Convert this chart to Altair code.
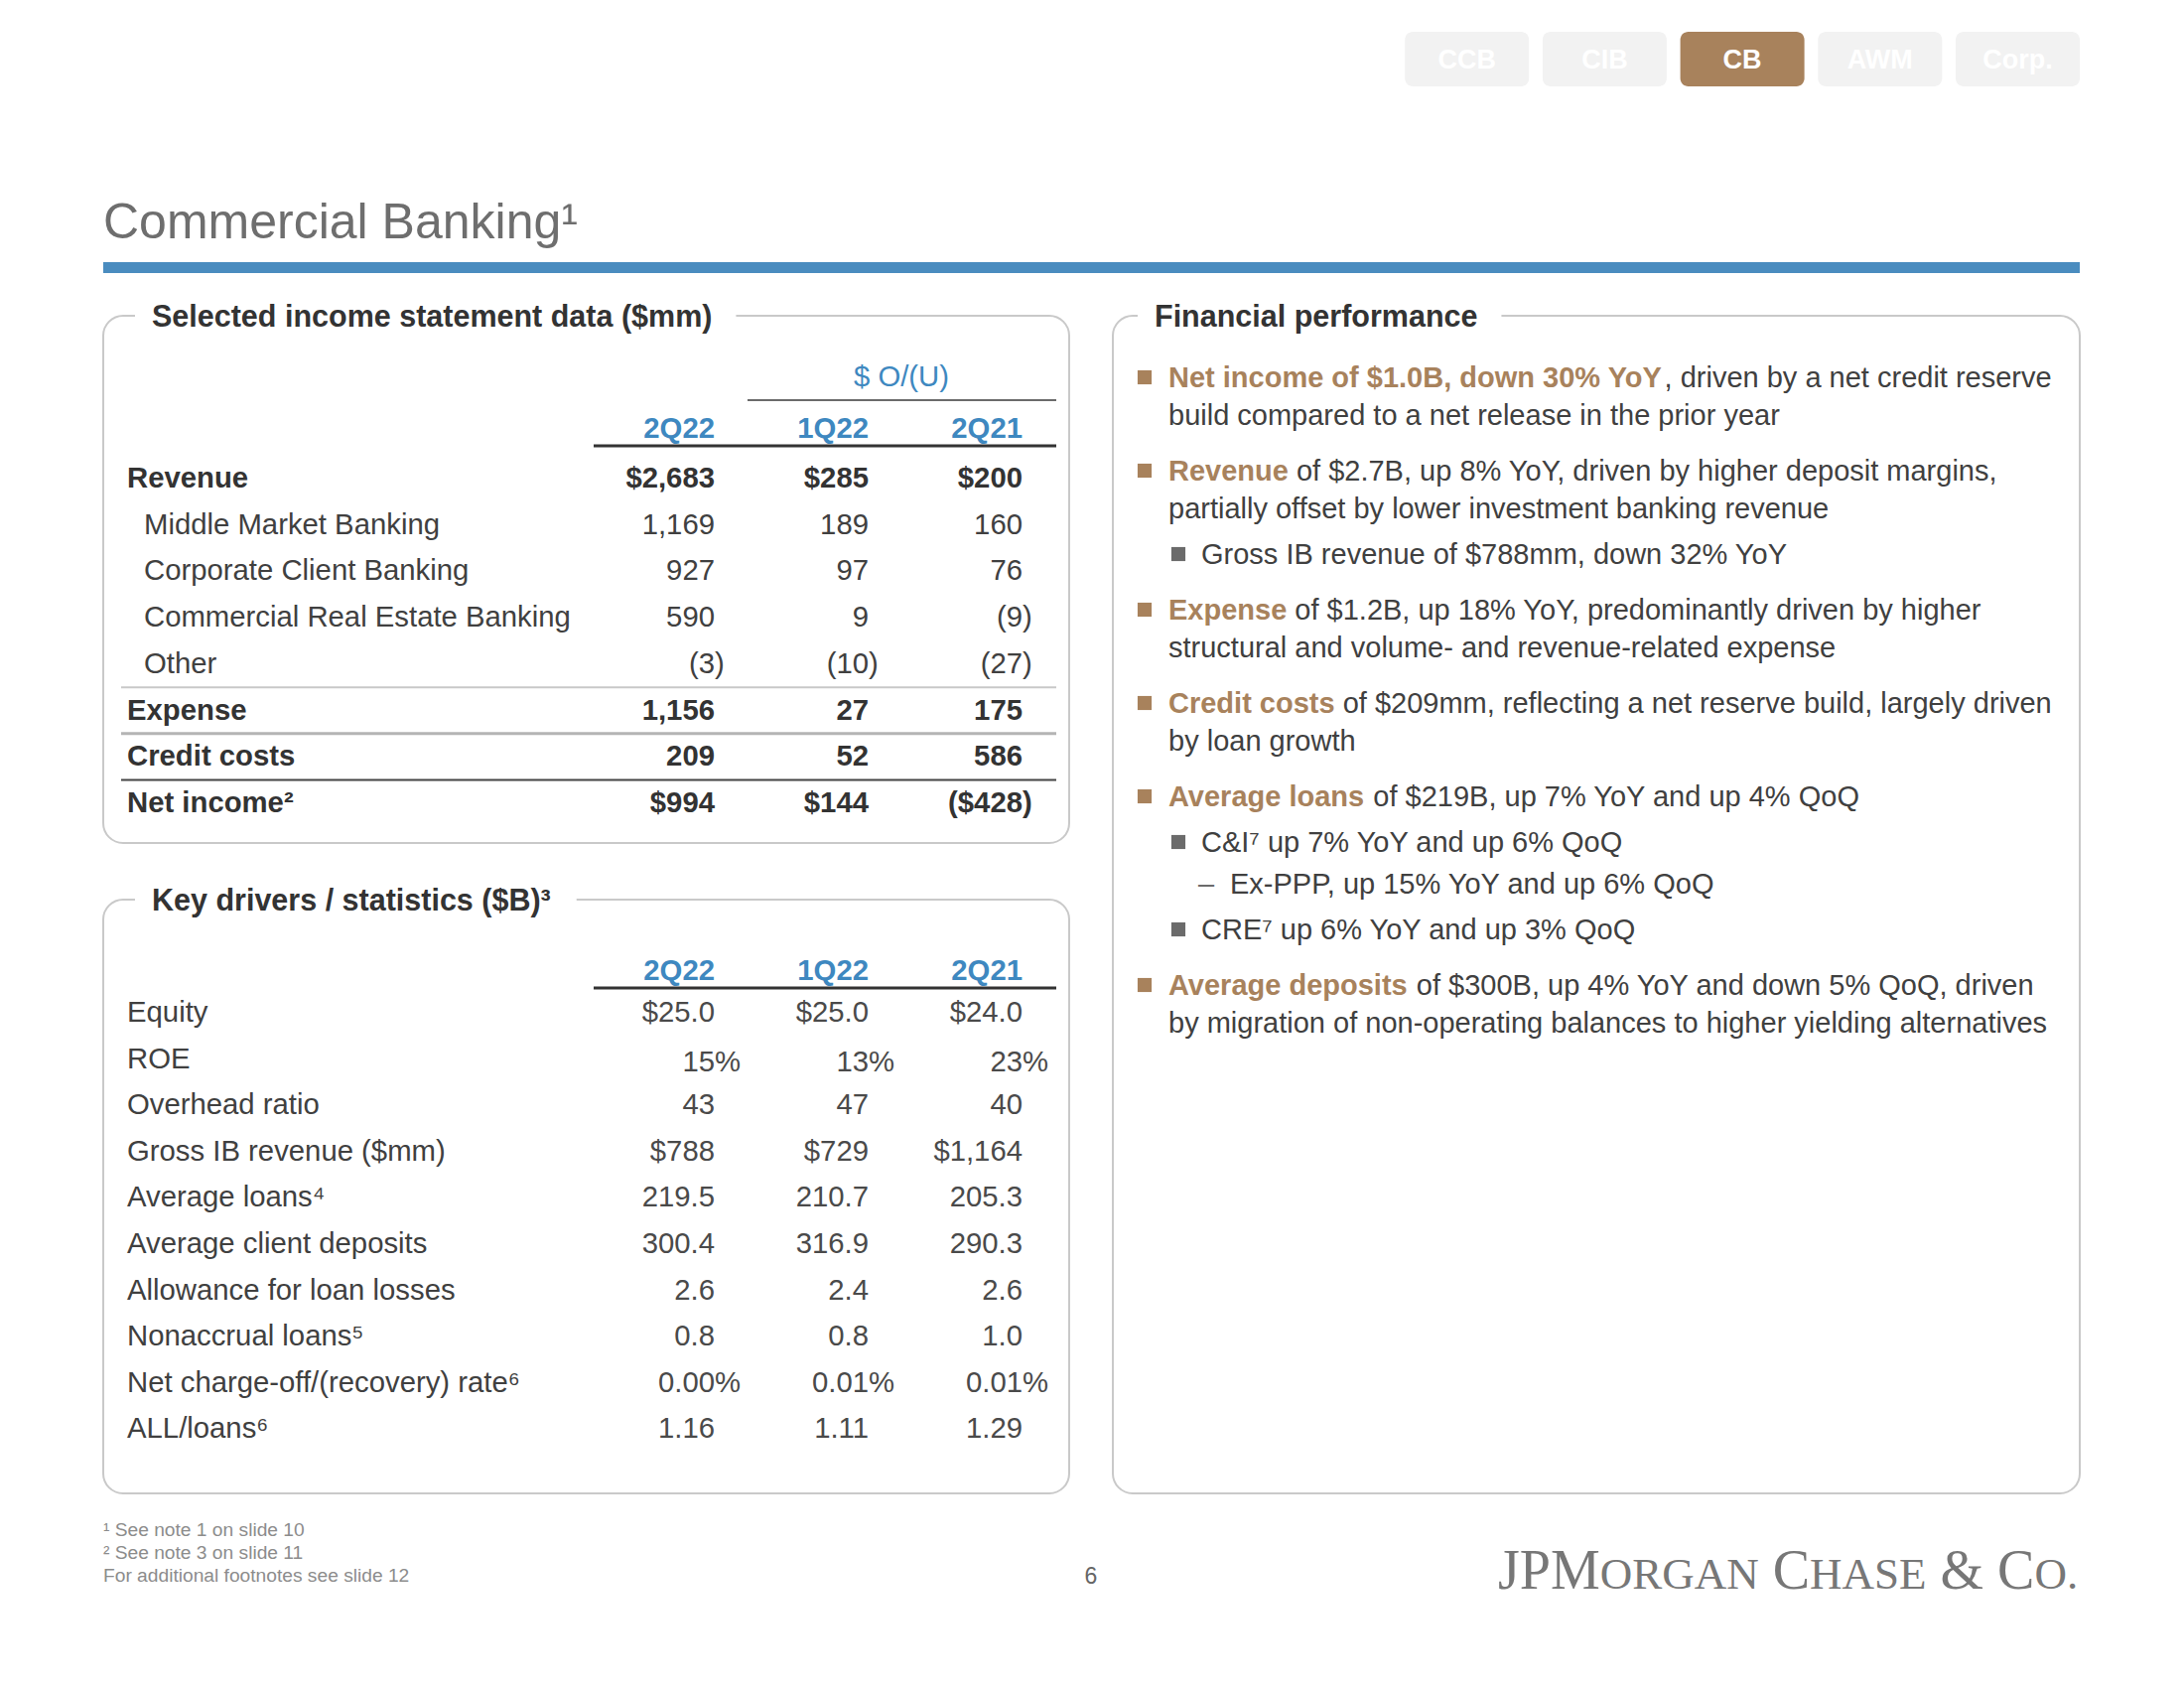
import altair as alt
import pandas as pd

# ---------------- data ----------------
tabs = ["CCB", "CIB", "CB", "AWM", "Corp."]
active_tab = "CB"

page_title = "Commercial Banking¹"

t1_title = "Selected income statement data ($mm)"
t1_span_header = "$ O/(U)"
t1_columns = ["2Q22", "1Q22", "2Q21"]
t1_labels = ["Revenue", "Middle Market Banking", "Corporate Client Banking",
             "Commercial Real Estate Banking", "Other", "Expense", "Credit costs", "Net income²"]
t1_is_total = [True, False, False, False, False, True, True, True]
t1_2q22 = ["$2,683", "1,169", "927", "590", "(3)", "1,156", "209", "$994"]
t1_1q22 = ["$285", "189", "97", "9", "(10)", "27", "52", "$144"]
t1_2q21 = ["$200", "160", "76", "(9)", "(27)", "175", "586", "($428)"]

t2_title = "Key drivers / statistics ($B)³"
t2_columns = ["2Q22", "1Q22", "2Q21"]
t2_labels = ["Equity", "ROE", "Overhead ratio", "Gross IB revenue ($mm)", "Average loans⁴",
             "Average client deposits", "Allowance for loan losses", "Nonaccrual loans⁵",
             "Net charge-off/(recovery) rate⁶", "ALL/loans⁶"]
t2_2q22 = ["$25.0", "15%", "43", "$788", "219.5", "300.4", "2.6", "0.8", "0.00%", "1.16"]
t2_1q22 = ["$25.0", "13%", "47", "$729", "210.7", "316.9", "2.4", "0.8", "0.01%", "1.11"]
t2_2q21 = ["$24.0", "23%", "40", "$1,164", "205.3", "290.3", "2.6", "1.0", "0.01%", "1.29"]

fp_title = "Financial performance"
fp_level = [1, 1, 2, 1, 1, 1, 2, 3, 2, 1]
fp_lead = ["Net income of $1.0B, down 30% YoY", "Revenue", "", "Expense", "Credit costs",
           "Average loans", "", "", "", "Average deposits"]
fp_text = [
    [", driven by a net credit reserve", "build compared to a net release in the prior year"],
    [" of $2.7B, up 8% YoY, driven by higher deposit margins,",
     "partially offset by lower investment banking revenue"],
    ["Gross IB revenue of $788mm, down 32% YoY"],
    [" of $1.2B, up 18% YoY, predominantly driven by higher",
     "structural and volume- and revenue-related expense"],
    [" of $209mm, reflecting a net reserve build, largely driven", "by loan growth"],
    [" of $219B, up 7% YoY and up 4% QoQ"],
    ["C&I⁷ up 7% YoY and up 6% QoQ"],
    ["Ex-PPP, up 15% YoY and up 6% QoQ"],
    ["CRE⁷ up 6% YoY and up 3% QoQ"],
    [" of $300B, up 4% YoY and down 5% QoQ, driven",
     "by migration of non-operating balances to higher yielding alternatives"],
]

footnotes = ["¹ See note 1 on slide 10", "² See note 3 on slide 11",
             "For additional footnotes see slide 12"]
page_number = "6"
logo_parts = ["JPM", "ORGAN", " C", "HASE", " &", " C", "O."]
logo_small = [False, True, False, True, False, False, True]

# ---------------- styles / layout ----------------
SANS = "Liberation Sans, Arial, Helvetica, sans-serif"
SERIF = "Liberation Serif, Times New Roman, serif"
FS = 29.3      # tables
FSB = 29.0     # bullets
FST = 30.5     # section titles
BLUE = "#3E88C0"
BAR = "#4A8CBF"
BROWN = "#A8825C"
DARK = "#333333"
TEXT = "#404040"
BORDER = "#C9C9C9"

_REG = dict(zip(" !\"#$%&'()*+,-./0123456789:;<=>?@",
                [278, 278, 355, 556, 556, 889, 667, 191, 333, 333, 389, 584, 278, 333, 278, 278]
                + [556] * 10 + [278, 278, 584, 584, 584, 556, 1015]))
_REG.update(dict(zip("ABCDEFGHIJKLMNOPQRSTUVWXYZ",
                     [667, 667, 722, 722, 667, 611, 778, 722, 278, 500, 667, 556, 833, 722, 778,
                      667, 778, 722, 667, 611, 722, 667, 944, 667, 667, 611])))
_REG.update(dict(zip("abcdefghijklmnopqrstuvwxyz",
                     [556, 556, 500, 556, 556, 278, 556, 556, 222, 222, 500, 222, 833, 556, 556,
                      556, 556, 333, 500, 278, 556, 500, 722, 500, 500, 500])))
_BOLD = dict(zip(" !\"#$%&'()*+,-./0123456789:;<=>?@",
                 [278, 333, 474, 556, 556, 889, 722, 238, 333, 333, 389, 584, 278, 333, 278, 278]
                 + [556] * 10 + [333, 333, 584, 584, 584, 611, 975]))
_BOLD.update(dict(zip("ABCDEFGHIJKLMNOPQRSTUVWXYZ",
                      [722, 722, 722, 722, 667, 611, 778, 722, 278, 556, 722, 611, 833, 722, 778,
                       667, 778, 722, 667, 611, 722, 667, 944, 667, 667, 611])))
_BOLD.update(dict(zip("abcdefghijklmnopqrstuvwxyz",
                      [556, 611, 556, 611, 556, 333, 611, 611, 278, 278, 556, 278, 889, 611, 611,
                       611, 611, 389, 556, 333, 611, 556, 778, 556, 556, 500])))
_SERIF = dict(zip("JPMORGANCHSE&. ", [389, 556, 889, 722, 667, 722, 722, 722, 667, 722, 556, 611,
                                      778, 250, 250]))


def tw(s, size, bold=False):
    table = _BOLD if bold else _REG
    return sum(table.get(ch, 400) for ch in s) * size / 1000.0


def tw_serif(s, size):
    return sum(_SERIF.get(ch, 700) for ch in s) * size / 1000.0


texts = {}
rects = {}
rules = []
squares = []


def add_text(x, y, t, color, size, weight="normal", align="left", font=SANS, baseline="middle"):
    texts.setdefault((weight, align, font, baseline), []).append(
        dict(x=x, y=y, t=t, c=color, s=size))


def add_rect(x, x2, y, y2, color, radius=0):
    rects.setdefault(radius, []).append(dict(x=x, x2=x2, y=y, y2=y2, c=color))


def add_rule(x, x2, y, color, w):
    rules.append(dict(x=x, x2=x2, y=y, y2=y, c=color, w=w))


LEFT, RIGHT = 104, 2095

# nav tabs
TAB_W, TAB_PITCH, TAB_Y0, TAB_Y1 = 125, 138.7, 32, 87
for i, tab in enumerate(tabs):
    x0 = RIGHT - TAB_W - (len(tabs) - 1 - i) * TAB_PITCH
    add_rect(x0, x0 + TAB_W, TAB_Y0, TAB_Y1, BROWN if tab == active_tab else "#F2F2F2", radius=8)
    add_text(x0 + TAB_W / 2, (TAB_Y0 + TAB_Y1) / 2 + 1.5, tab, "#FFFFFF", 27, weight="bold",
             align="center")

# page title + bar
add_text(LEFT, 240, page_title, "#6E6E6E", 50, baseline="alphabetic")
add_rect(LEFT, RIGHT, 264, 275, BAR)

# boxes
boxes = [(104, 1077, 318, 849, 153, t1_title), (104, 1077, 906, 1504, 153, t2_title),
         (1121, RIGHT, 318, 1504, 1163, fp_title)]
box_rows = []
for bx0, bx1, by0, by1, tx, ttl in boxes:
    box_rows.append(dict(x=bx0, x2=bx1, y=by0, y2=by1))
    add_rect(tx - 17, tx + tw(ttl, FST, True) + 24, by0 - 5, by0 + 5, "#FFFFFF")
    add_text(tx, by0 + 1.5, ttl, DARK, FST, weight="bold")

COLS_R = [720, 875, 1030]
ROW_H = 46.7


def hang(v, bold):
    return tw(v[-1], FS, bold) if v[-1] in ")%" else 0


# table 1
add_text(908, 380, t1_span_header, BLUE, FS, align="center")
add_rule(753, 1064, 403, "#3A3A3A", 1.5)
for cx, col in zip(COLS_R, t1_columns):
    add_text(cx, 432, col, BLUE, FS, weight="bold", align="right")
add_rule(598, 1064, 449, "#333333", 3)
t1_values = list(zip(t1_2q22, t1_1q22, t1_2q21))
for i, (lab, tot, vals) in enumerate(zip(t1_labels, t1_is_total, t1_values)):
    y = 482 + i * ROW_H
    w = "bold" if tot else "normal"
    col = DARK if tot else TEXT
    add_text(128 if tot else 145, y, lab, col, FS, weight=w)
    for cx, v in zip(COLS_R, vals):
        add_text(cx + hang(v, tot), y, v, col, FS, weight=w, align="right")
sep_style = {4: ("#C8C8C8", 2), 5: ("#B4B4B4", 3), 6: ("#444444", 2)}
for idx, (c, w) in sep_style.items():
    add_rule(122, 1064, 482 + (idx + 0.5) * ROW_H, c, w)

# table 2
for cx, col in zip(COLS_R, t2_columns):
    add_text(cx, 978, col, BLUE, FS, weight="bold", align="right")
add_rule(598, 1064, 995, "#333333", 3)
t2_values = list(zip(t2_2q22, t2_1q22, t2_2q21))
for i, (lab, vals) in enumerate(zip(t2_labels, t2_values)):
    y = 1020 + i * 46.6
    add_text(128, y, lab, TEXT, FS)
    for cx, v in zip(COLS_R, vals):
        add_text(cx + hang(v, False), y + (3 if v.endswith("%") and "." not in v else 0), v,
                 "#4A4A4A", FS, align="right")

# financial performance bullets
STEP = {1: 56, 2: 46, 3: 42}
TX = {1: 1177, 2: 1210, 3: 1239}
y = 381
for i, (lvl, lead, lines) in enumerate(zip(fp_level, fp_lead, fp_text)):
    if i > 0:
        y += STEP[lvl]
    if lvl == 1:
        squares.append(dict(x=1153, y=y - 1, c=BROWN))
    elif lvl == 2:
        squares.append(dict(x=1187, y=y - 1, c="#6B6B6B"))
    else:
        add_text(1207, y, "–", "#6B6B6B", FSB)
    x = TX[lvl]
    if lead:
        add_text(x, y, lead, BROWN, FSB, weight="bold")
        x += tw(lead, FSB, True)
    first = lines[0]
    if first.startswith(" "):
        x += tw(" ", FSB)
        first = first[1:]
    add_text(x, y, first, TEXT, FSB)
    for ln in lines[1:]:
        y += 38
        add_text(TX[lvl], y, ln, TEXT, FSB)

# footnotes, page number, logo
for i, fn in enumerate(footnotes):
    add_text(LEFT, 1541 + i * 23, fn, "#8C8C8C", 19.2)
add_text(1099, 1588, page_number, "#666666", 23, align="center")
x = 1509
for part, small in zip(logo_parts, logo_small):
    size = 45 if small else 56
    stripped = part.lstrip(" ")
    x += (len(part) - len(stripped)) * 250 * size / 1000
    add_text(x, 1600, stripped, "#777777", size, font=SERIF, baseline="alphabetic")
    x += tw_serif(stripped, size)

# ---------------- chart ----------------
XS = alt.Scale(domain=[8, 2192], nice=False, zero=False)
YS = alt.Scale(domain=[8, 1692], nice=False, zero=False, reverse=True)
X = alt.X("x:Q", scale=XS, axis=None)
Y = alt.Y("y:Q", scale=YS, axis=None)

layers = []
layers.append(alt.Chart(pd.DataFrame(box_rows)).mark_rect(
    fill="#FFFFFF", stroke=BORDER, strokeWidth=2, cornerRadius=20).encode(
    x=X, x2="x2:Q", y=Y, y2="y2:Q"))
for radius, rows in rects.items():
    layers.append(alt.Chart(pd.DataFrame(rows)).mark_rect(cornerRadius=radius).encode(
        x=X, x2="x2:Q", y=Y, y2="y2:Q", color=alt.Color("c:N", scale=None)))
layers.append(alt.Chart(pd.DataFrame(rules)).mark_rule().encode(
    x=X, x2="x2:Q", y=Y, color=alt.Color("c:N", scale=None),
    strokeWidth=alt.StrokeWidth("w:Q", scale=None)))
layers.append(alt.Chart(pd.DataFrame(squares)).mark_square(size=200, opacity=1).encode(
    x=X, y=Y, color=alt.Color("c:N", scale=None)))
for (weight, align, font, baseline), rows in texts.items():
    layers.append(alt.Chart(pd.DataFrame(rows)).mark_text(
        align=align, baseline=baseline, font=font, fontWeight=weight).encode(
        x=X, y=Y, text="t:N", color=alt.Color("c:N", scale=None),
        size=alt.Size("s:Q", scale=None)))

chart = alt.layer(*layers).properties(
    width=2184, height=1684, padding=0, background="#FFFFFF",
    autosize=alt.AutoSizeParams(type="none"),
).configure_view(strokeWidth=0)

chart.save("out.html", embed_options={"renderer": "svg", "actions": False})
